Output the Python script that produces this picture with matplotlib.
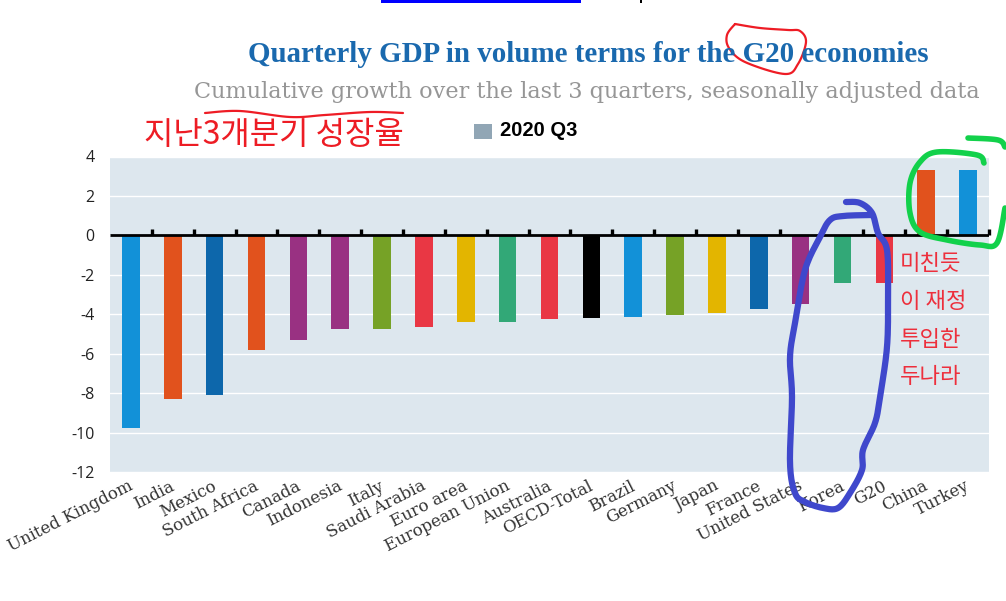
import numpy as np
import matplotlib
matplotlib.use("Agg")
import matplotlib.pyplot as plt
from matplotlib.transforms import ScaledTranslation

categories = ["United Kingdom", "India", "Mexico", "South Africa", "Canada", "Indonesia", "Italy",
              "Saudi Arabia", "Euro area", "European Union", "Australia", "OECD-Total", "Brazil",
              "Germany", "Japan", "France", "United States", "Korea", "G20", "China", "Turkey"]
values = [-9.75, -8.3, -8.1, -5.8, -5.3, -4.75, -4.75, -4.65, -4.4, -4.4, -4.25, -4.2, -4.15,
          -4.05, -3.95, -3.75, -3.5, -2.4, -2.4, 3.3, 3.3]
colors = ["#1291d8", "#e1521d", "#0d67ab", "#e1521d", "#993182", "#993182", "#76a226", "#e93744",
          "#e3b500", "#32a877", "#e93744", "#000000", "#1291d8", "#76a226", "#e3b500", "#0d67ab",
          "#993182", "#32a877", "#e93744", "#e1521d", "#1291d8"]
yticks = [-12, -10, -8, -6, -4, -2, 0, 2, 4]

red_circle = [(735,24),(727,35),(729,48),(745,62),(785,74),(798,64),(806,42),(800,31),(788,30),(760,28),(735,24)]
red_under = [(205,113),(240,111),(290,117),(325,115),(370,112),(403,113)]
blue_loop = [(846,202),(860,203),(872,213),(878,233),(887,250),(888,297),(887,347),(880,397),(875,423),
             (863,450),(862,470),(850,493),(838,508),(823,508),(805,502),(795,493),(790,463),(792,397),
             (790,357),(795,323),(805,270),(820,237),(830,220),(843,216),(872,215)]
green_loop = [(984,163),(977,155),(937,152),(920,162),(910,183),(910,213),(920,232),(947,240),(980,245),(997,243),(1005,208)]
green_top = [(968,138),(998,140),(1005,147)]


def smooth(points, n=12):
    p = np.array([points[0]] + list(points) + [points[-1]], float)
    t = np.linspace(0, 1, n, endpoint=False)[:, None]
    out = []
    for i in range(1, len(p) - 2):
        a, b, c, d = p[i - 1], p[i], p[i + 1], p[i + 2]
        out.append(0.5 * (2 * b + (c - a) * t + (2 * a - 5 * b + 4 * c - d) * t ** 2 + (3 * b - a - 3 * c + d) * t ** 3))
    out.append(p[-2][None, :])
    return np.vstack(out)


W, H = 1006, 601
fig = plt.figure(figsize=(W / 100, H / 100), dpi=100, facecolor="white")
ax = fig.add_axes([110 / W, 1 - 472 / H, 879 / W, 315.5 / H], facecolor="#dde7ee")
x = np.arange(len(categories))
ax.bar(x, values, width=0.42, color=colors, zorder=3)
ax.set_xlim(-0.5, len(categories) - 0.5)
ax.set_ylim(-12, 4)
ax.set_yticks(yticks)
ax.set_yticklabels([str(v) for v in yticks], family="Open Sans", fontsize=11.5, color="#222222")
ax.tick_params(axis="y", length=0, pad=11)
ax.grid(axis="y", color="white", lw=1, zorder=1)
ax.set_axisbelow(True)
for s in ax.spines.values():
    s.set_visible(False)
ax.set_xticks(x)
ax.set_xticklabels(categories, rotation=27, ha="right", va="top", rotation_mode="anchor",
                   family="DejaVu Serif", fontsize=12, color="#333333")
ax.tick_params(axis="x", length=0, pad=4)
shift = ScaledTranslation(-3 / 100, 0, fig.dpi_scale_trans)
for lab in ax.get_xticklabels():
    lab.set_transform(lab.get_transform() + shift)
ax.axhline(0, color="black", lw=2, zorder=5, solid_capstyle="butt")
ax.vlines(x + 0.5, 0, 0.32, color="black", lw=2.4, zorder=5, clip_on=False)

ov = fig.add_axes([0, 0, 1, 1], facecolor="none")
ov.set_xlim(0, W)
ov.set_ylim(H, 0)
ov.axis("off")
ov.fill_between([381, 581], 0, 3, color="#0000ff", lw=0)
ov.fill_between([640, 642], 0, 3, color="black", lw=0)
ov.text(588, 55, "Quarterly GDP in volume terms for the G20 economies", ha="center", va="center",
        family="Liberation Serif", weight="bold", fontsize=20.9, color="#1a69ae")
ov.text(587, 92, "Cumulative growth over the last 3 quarters, seasonally adjusted data", ha="center",
        va="center", family="DejaVu Serif", fontsize=16.1, color="#969696")
ov.fill_between([474, 492], 124, 139, color="#91a6b5", lw=0)
ov.text(500, 131, "2020 Q3", ha="left", va="center", family="Liberation Sans", weight="bold", fontsize=14.5, color="black")
ov.text(274, 135, "지난3개분기 성장율", ha="center", va="center", family="Noto Sans CJK KR", fontsize=23, color="#ed1c24")
for i, line in enumerate(["미친듯", "이 재정", "투입한", "두나라"]):
    ov.text(900, 264 + 37.5 * i, line, ha="left", va="center", family="Noto Sans CJK KR", fontsize=16, color="#ed2f3c")
for pts, col, lw in [(red_circle, "#ee1c25", 1.6), (red_under, "#ee1c25", 1.6), (blue_loop, "#3f48cc", 4.5),
                     (green_loop, "#12d14b", 4), (green_top, "#12d14b", 4)]:
    s = smooth(pts)
    ov.plot(s[:, 0], s[:, 1], color=col, lw=lw, solid_capstyle="round", solid_joinstyle="round", clip_on=False)
fig.savefig("out.png", dpi=100)
